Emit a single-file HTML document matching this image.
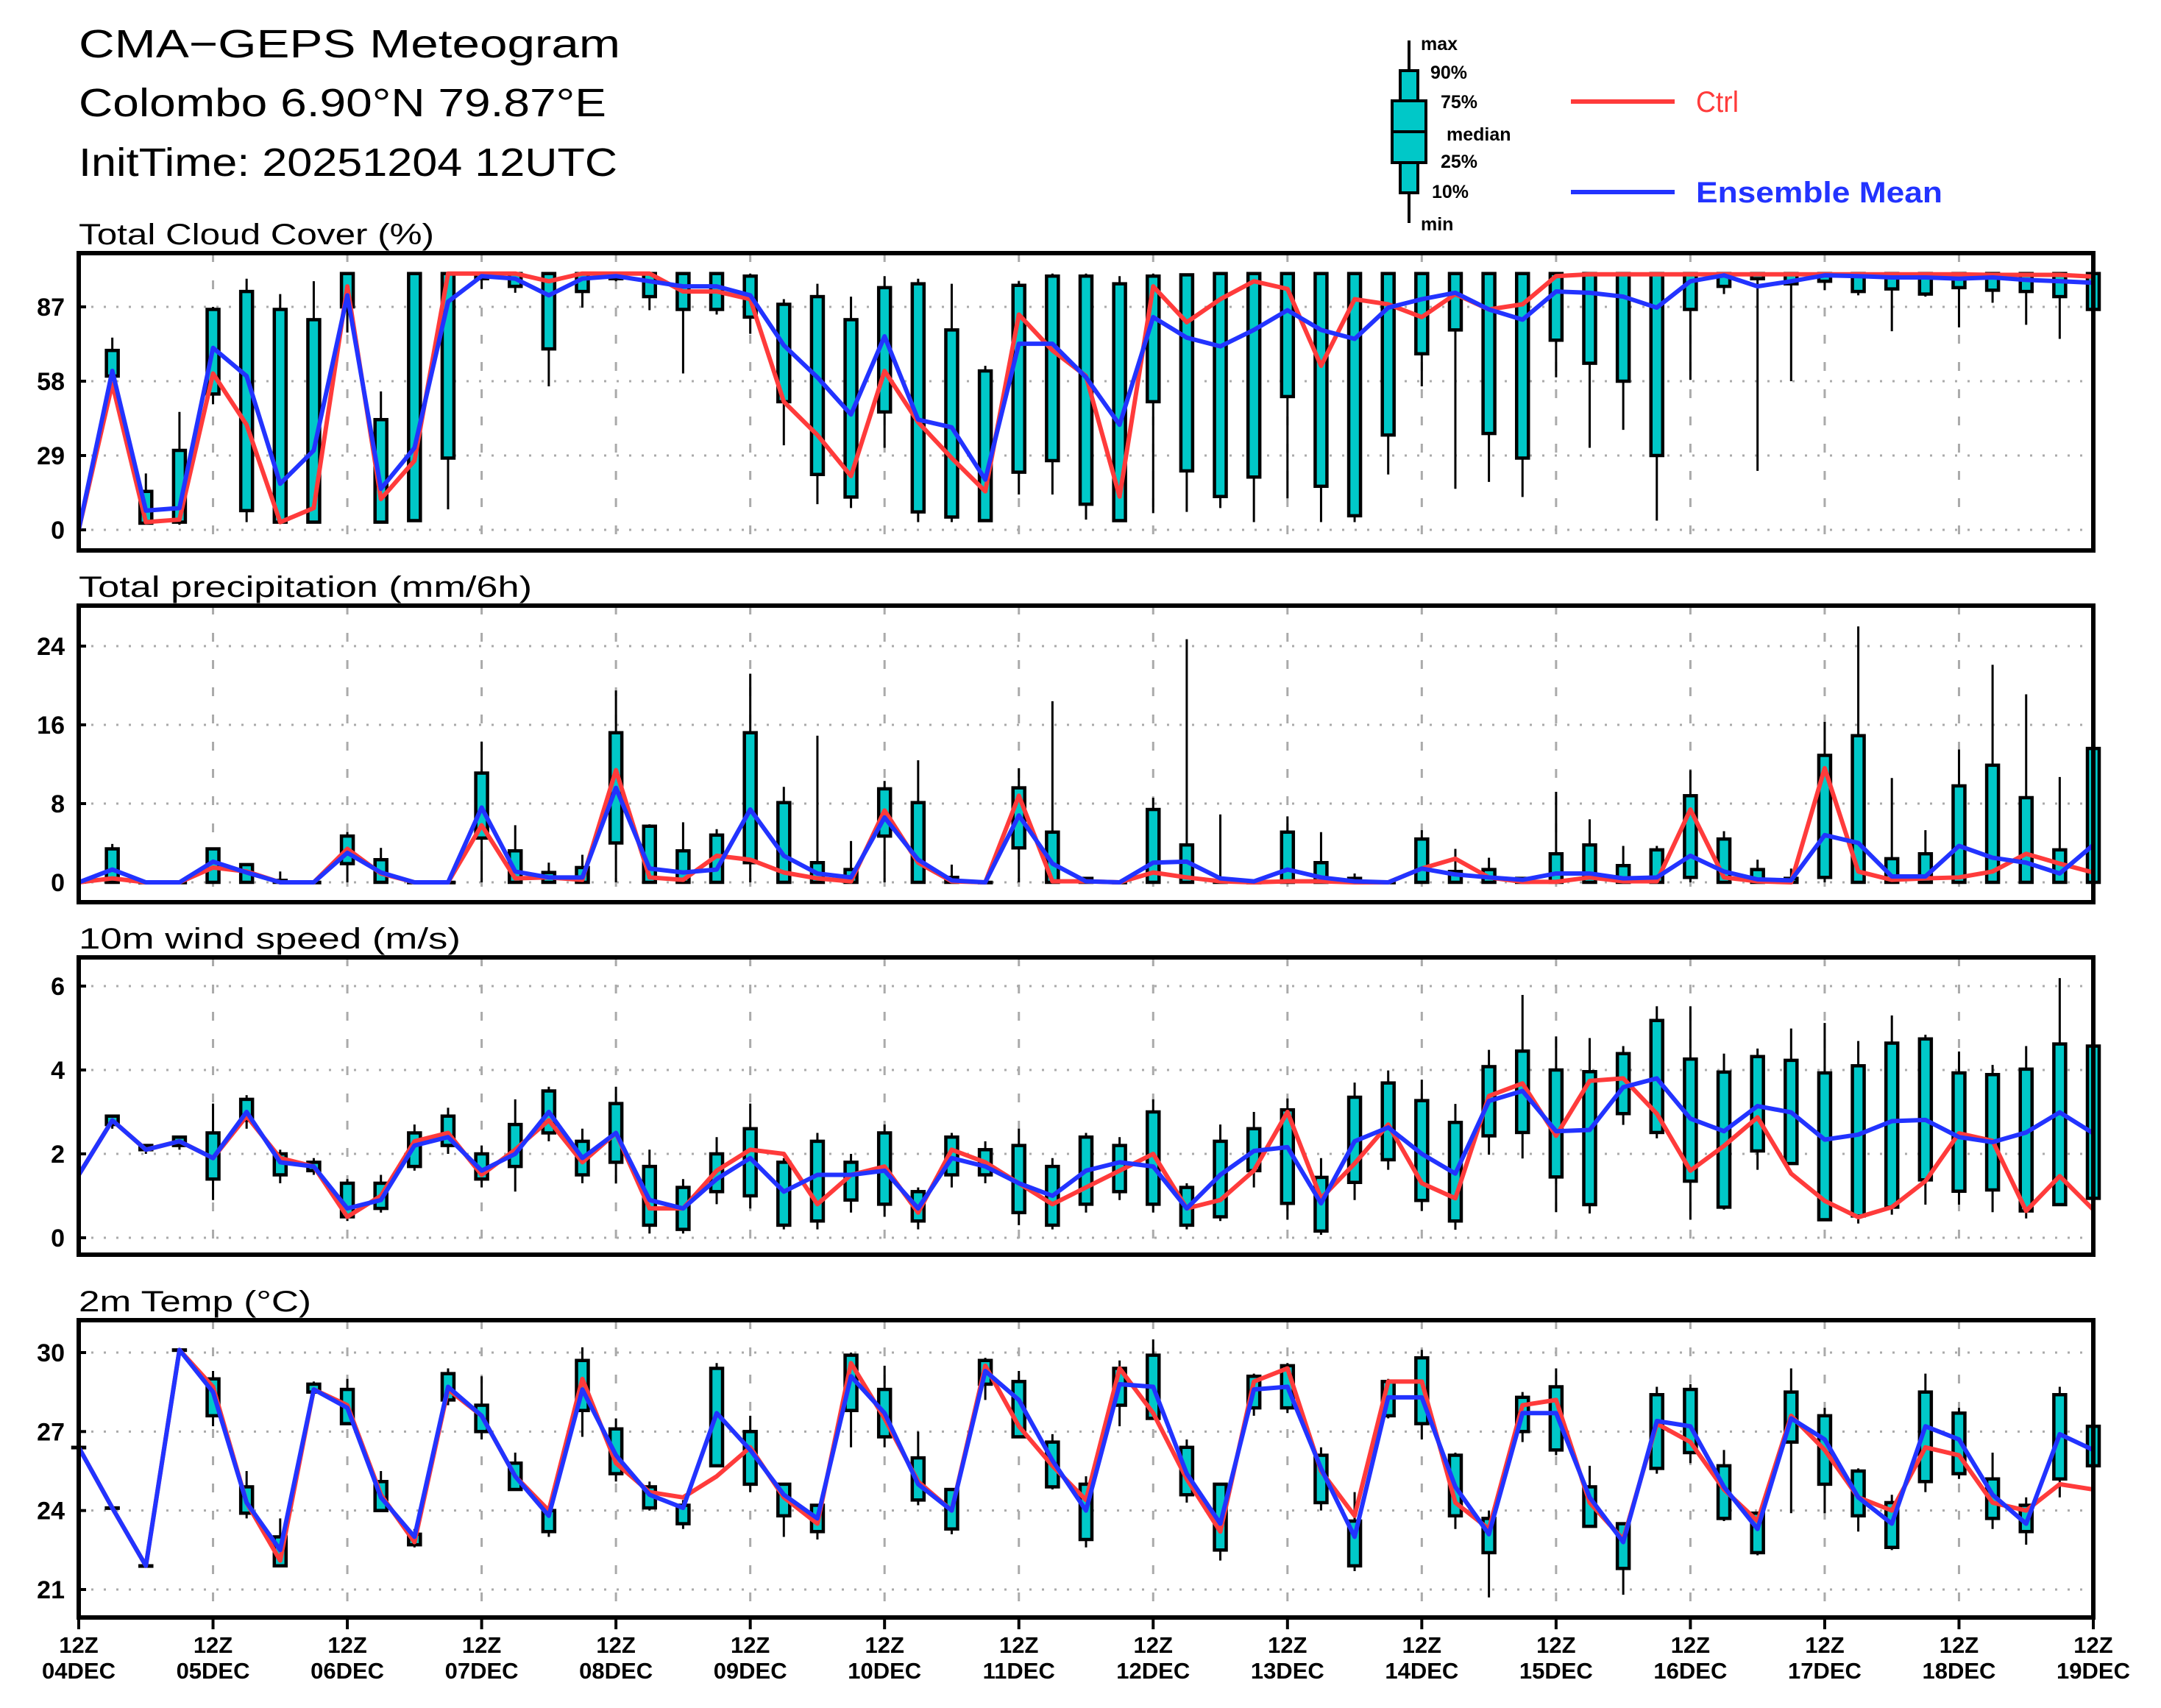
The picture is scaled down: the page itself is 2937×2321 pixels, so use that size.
<!DOCTYPE html>
<html><head><meta charset="utf-8"><style>
html,body{margin:0;padding:0;background:#fff}
svg{display:block}
text{font-family:"Liberation Sans",sans-serif}
</style></head><body>
<svg id="chart" xmlns="http://www.w3.org/2000/svg" width="2937" height="2321" viewBox="0 0 2937 2321">
<rect x="0" y="0" width="2937" height="2321" fill="#fff"/>
<g>
<text x="107" y="78" font-size="54" textLength="736" lengthAdjust="spacingAndGlyphs">CMA−GEPS Meteogram</text>
<text x="107" y="158" font-size="54" textLength="717" lengthAdjust="spacingAndGlyphs">Colombo 6.90°N 79.87°E</text>
<text x="107" y="239" font-size="54" textLength="732" lengthAdjust="spacingAndGlyphs">InitTime: 20251204 12UTC</text>
</g>
<g font-weight="bold" font-size="25">
<line x1="1915" y1="55" x2="1915" y2="303" stroke="#000" stroke-width="4"/>
<rect x="1903" y="96" width="24" height="166" fill="#00c8c8" stroke="#000" stroke-width="4"/>
<rect x="1892" y="137" width="46" height="84" fill="#00c8c8" stroke="#000" stroke-width="4"/>
<line x1="1892" y1="179" x2="1938" y2="179" stroke="#000" stroke-width="4"/>
<text x="1931" y="68">max</text>
<text x="1944" y="107">90%</text>
<text x="1958" y="147">75%</text>
<text x="1966" y="191">median</text>
<text x="1958" y="228">25%</text>
<text x="1946" y="269">10%</text>
<text x="1931" y="313">min</text>
<line x1="2135" y1="138" x2="2276" y2="138" stroke="#ff3b3b" stroke-width="6"/>
<text x="2305" y="152" font-size="40" font-weight="normal" fill="#ff3b3b" textLength="58" lengthAdjust="spacingAndGlyphs">Ctrl</text>
<line x1="2135" y1="261" x2="2276" y2="261" stroke="#2233ff" stroke-width="6"/>
<text x="2305" y="275" font-size="40" fill="#2233ff" textLength="335" lengthAdjust="spacingAndGlyphs">Ensemble Mean</text>
</g>
</svg>
<script>
// ---------- data ----------
const timeLabels = ["04DEC","05DEC","06DEC","07DEC","08DEC","09DEC","10DEC","11DEC","12DEC","13DEC","14DEC","15DEC","16DEC","17DEC","18DEC","19DEC"];

const cloudTicks = [0,29,58,87];
const cloudCtrl = [0,57,3,4,61,41,3,8.5,95,12,27,100,100,100,97,100,100,100,93,93,90,50,37,21,62,42,28,15,84,70,60,13,95,81,90,97,94,64,90,88,83,92,86,88,99,99.7,99.7,99.7,99.7,99.7,99.7,99.7,99.7,99.7,99.7,99.7,99.7,99.5,99.5,99.5,98.8];
const cloudMean = [0,62,7.5,8.5,71,60,18,31,91.5,16,32,89,99,98,91.5,98,99,97,95,95,91.5,72,59.5,45,75.5,43,40,19.6,72.6,72.6,59.5,41,83,75,71.6,78,85.7,78,74.5,86.7,90,92.5,86,82,93,92.5,91,86.7,97,99.3,95,97,99.3,99,98.5,98.5,98,98.5,97.5,97,96.4];
const cloudMin = [null,58,2,2,49,3,3,3,77,3,3,8,94,92.5,56,86.7,97,85.7,61,84,76.5,33,10,8.5,32,3,3,3,13.8,13.8,4,3,6.5,7,8.5,3,12.3,3,3,21.6,56,16,18.7,12.8,59.5,32,39,3.6,58.5,92,23,58,93.5,91.5,77.5,91,79,88.6,80,74.5,75];
const cloudP10 = [null,60,2.6,3,53,7.5,3,3,87,3,3.6,28,98,95,70.6,93,98,91,86,86,83,50,21.6,12.8,46,7,5,3.6,22.5,27,10,3.6,50,23,13,20.6,52,17,5.5,37,68.7,78,37.6,28,74,65,58,29,86,95,98,96,97,93,94,92,94.5,93.5,93,91,86];
const cloudP90 = [null,70,15,31,86,93,86,82,100,43,100,100,100,100,100,100,100,100,100,100,99,88,91,82,94.5,96,78,62,95.4,99,99,96,99,99.5,100,100,100,100,100,100,100,100,100,100,100,100,100,100,100,100,100,100,100,100,100,100,100,100,100,100,100];
const cloudMax = [null,75,22,46,87,98,92,97,100,54,100,100,100,100,100,100,100,100,100,100,100,90,96,91,99,98,96,64,97,100,100,99,100,100,100,100,100,100,100,100,100,100,100,100,100,100,100,100,100,100,100,100,100,100,100,100,100,100,100,100,100];

const precipTicks = [0,8,16,24];
const precipCtrl = [0,0.4,0,0,1.5,1.1,0,0,3.4,0.9,0,0,5.8,0.4,0.5,0.25,11.4,0.5,0.25,2.7,2.3,1.0,0.4,0.1,7.3,2.0,0.1,0,8.8,0.1,0.1,0,1.0,0.5,0.1,0,0.1,0.1,0,0,1.4,2.4,0.5,0.05,0.05,0.5,0.1,0.1,7.4,0.5,0.1,0,11.6,1.1,0.25,0.4,0.5,1.1,2.9,1.9,1.0];
const precipMean = [0,1.3,0,0,2.1,1.0,0,0,3.0,1.0,0,0,7.6,1.1,0.5,0.5,9.6,1.4,1.0,1.3,7.4,2.7,0.9,0.5,6.6,2.3,0.2,0,6.8,1.9,0.1,0,2.0,2.1,0.4,0.1,1.3,0.5,0.1,0,1.4,0.8,0.5,0.25,0.9,0.9,0.4,0.5,2.7,1.1,0.3,0.2,4.8,4.0,0.6,0.6,3.7,2.5,2.0,0.9,3.8];
const precipMin = [null,0,0,0,0,0,0,0,0,0,0,0,0,0,0,0,0,0,0,0,0,0,0,0,0,0,0,0,0,0,0,0,0,0,0,0,0,0,0,0,0,0,0,0,0,0,0,0,0,0,0,0,0,0,0,0,0,0,0,0,0];
const precipP10 = [null,0,0,0,0,0,0,0,1.9,0,0,0,4.5,0,0,0,4.0,0,0,0,2.0,0,0,0,4.7,0,0,0,3.5,0,0,0,0,0,0,0,0,0,0,0,0,0,0,0,0,0,0,0,0.5,0,0,0,0.5,0,0,0,0,0,0,0,0];
const precipP90 = [null,3.4,0,0,3.4,1.8,0.2,0,4.7,2.3,0,0,11.1,3.2,1.0,1.5,15.2,5.7,3.2,4.8,15.2,8.1,2.0,1.3,9.5,8.1,0.5,0,9.6,5.1,0.4,0,7.4,3.8,0.2,0,5.1,2.0,0.4,0,4.4,1.1,1.3,0.4,2.9,3.8,1.7,3.3,8.8,4.4,1.3,0.4,12.9,14.9,2.4,2.9,9.8,11.9,8.6,3.3,13.6];
const precipMax = [null,3.9,0,0,3.5,1.9,1.1,0,5.1,3.5,0,0,14.3,5.8,2.0,2.8,19.5,5.9,6.1,5.4,21.2,9.7,14.9,4.2,10.3,12.4,1.8,0,11.6,18.4,0.5,0,8.6,24.7,6.9,0,6.7,5.1,0.9,0,5.3,3.4,2.5,0.5,9.2,6.4,3.7,3.7,11.4,5.2,2.3,1.4,16.3,26.0,10.6,5.3,13.5,22.1,19.1,10.7,13.6];

const windTicks = [0,2,4,6];
const windCtrl = [1.5,2.8,2.1,2.3,1.9,2.9,1.9,1.7,0.5,1.0,2.3,2.5,1.5,2.1,2.8,1.8,2.5,0.7,0.7,1.6,2.1,2.0,0.8,1.5,1.7,0.6,2.1,1.8,1.3,0.8,1.2,1.6,2.0,0.7,0.9,1.6,3.0,0.94,1.77,2.7,1.3,0.94,3.38,3.68,2.43,3.74,3.8,2.96,1.6,2.19,2.87,1.53,0.88,0.49,0.73,1.35,2.49,2.31,0.64,1.47,0.67];
const windMean = [1.5,2.8,2.1,2.3,1.9,3.0,1.8,1.7,0.7,0.9,2.2,2.4,1.6,2.0,3.0,1.9,2.5,0.9,0.7,1.4,1.9,1.1,1.5,1.5,1.6,0.7,1.9,1.7,1.3,1.0,1.6,1.8,1.7,0.7,1.5,2.07,2.16,0.82,2.3,2.63,2.0,1.53,3.26,3.5,2.54,2.57,3.59,3.8,2.84,2.54,3.14,2.99,2.34,2.46,2.78,2.81,2.4,2.28,2.51,2.99,2.49];
const windMin = [null,2.6,2.0,2.1,0.9,2.6,1.3,1.5,0.4,0.6,1.6,2.0,1.2,1.1,2.3,1.3,1.3,0.1,0.1,0.8,0.7,0.2,0.2,0.6,0.5,0.2,1.2,1.3,0.3,0.2,0.6,0.9,0.6,0.2,0.4,1.2,0.43,0.07,0.9,1.62,0.64,0.19,1.98,1.89,0.61,0.58,2.69,2.37,0.43,0.67,1.62,1.77,0.4,0.34,0.55,0.79,0.79,0.61,0.46,0.79,0.8];
const windP10 = [null,2.7,2.1,2.2,1.4,2.8,1.5,1.6,0.5,0.7,1.7,2.2,1.4,1.7,2.5,1.5,1.8,0.3,0.2,1.1,1.0,0.3,0.4,0.9,0.8,0.4,1.5,1.5,0.6,0.3,0.8,1.1,0.8,0.3,0.5,1.6,0.82,0.16,1.32,1.86,0.89,0.4,2.43,2.51,1.45,0.79,2.96,2.51,1.35,0.73,2.07,1.77,0.43,0.52,0.73,1.38,1.11,1.14,0.64,0.79,0.94];
const windP90 = [null,2.9,2.2,2.4,2.5,3.3,2.0,1.8,1.3,1.3,2.5,2.9,2.0,2.7,3.5,2.3,3.2,1.7,1.2,2.0,2.6,1.8,2.3,1.8,2.5,1.1,2.4,2.1,2.2,1.7,2.4,2.2,3.0,1.2,2.3,2.6,3.05,1.44,3.35,3.69,3.27,2.75,4.08,4.45,4.0,3.96,4.39,5.18,4.26,3.95,4.32,4.23,3.93,4.1,4.64,4.74,3.93,3.89,4.02,4.62,4.57];
const windMax = [null,2.9,2.2,2.4,3.2,3.4,2.1,1.9,1.4,1.5,2.7,3.1,2.2,3.3,3.6,2.6,3.6,2.1,1.4,2.4,3.2,1.9,2.5,2.0,2.7,1.2,2.5,2.3,2.6,1.9,2.5,2.4,3.3,1.3,2.7,3.0,3.32,1.9,3.7,3.99,3.77,3.19,4.48,5.79,4.8,4.76,4.57,5.52,5.52,4.39,4.51,4.99,5.12,4.69,5.3,4.84,4.44,4.12,4.57,6.19,4.57];

const tempTicks = [21,24,27,30];
const tempCtrl = [26.4,24.1,21.9,30.1,28.7,24.3,22.1,28.6,28.0,24.6,22.8,28.6,27.6,25.3,24.0,29.0,25.8,24.7,24.5,25.3,26.4,24.5,23.5,29.6,27.5,25.1,24.0,29.5,27.2,25.7,24.4,29.4,27.7,25.2,23.2,28.9,29.4,25.5,23.8,28.9,28.9,24.3,23.3,28.0,28.2,24.3,22.9,27.3,26.6,24.8,23.6,27.6,26.3,24.5,24.0,26.4,26.1,24.3,24.0,25.0,24.8];
const tempMean = [26.4,24.1,21.9,30.1,28.5,24.3,22.5,28.6,27.9,24.5,23.0,28.7,27.6,25.3,23.8,28.6,26.1,24.6,24.1,27.7,26.3,24.6,23.7,29.1,27.7,25.0,24.0,29.3,28.2,25.9,24.0,28.8,28.7,25.4,23.5,28.6,28.7,25.6,23.0,28.3,28.3,24.9,23.1,27.7,27.7,24.5,22.8,27.4,27.2,24.9,23.3,27.5,26.7,24.5,23.5,27.2,26.7,24.6,23.5,26.9,26.3];
const tempMin = [26.4,24.1,21.9,30.1,27.2,23.7,21.9,28.5,27.3,24.0,22.6,28.0,26.7,24.8,23.0,26.8,25.1,24.0,23.3,25.7,24.7,23.0,22.9,26.4,26.4,24.2,23.1,28.2,26.8,24.8,22.6,27.2,27.5,24.3,22.1,27.6,27.7,24.0,21.7,27.5,26.7,23.3,20.7,26.6,26.1,23.4,20.8,25.4,25.8,23.6,22.3,23.9,23.9,23.2,22.5,24.7,25.2,23.3,22.7,24.5,25.7];
const tempP10 = [26.4,24.1,21.9,30.1,27.6,23.9,21.9,28.5,27.3,24.0,22.7,28.2,27.0,24.8,23.2,27.8,25.4,24.1,23.5,25.7,25.0,23.8,23.2,27.8,26.8,24.4,23.3,28.8,26.8,24.9,22.9,28.0,27.5,24.6,22.5,27.9,27.9,24.3,21.9,27.6,27.3,23.8,22.4,27.0,26.3,23.4,21.8,25.6,26.2,23.7,22.4,26.6,25.0,23.8,22.6,25.1,25.4,23.7,23.2,25.2,25.7];
const tempP90 = [26.4,24.1,21.9,30.1,29.0,24.9,23.0,28.8,28.6,25.1,23.1,29.2,28.0,25.8,24.0,29.7,27.1,24.9,24.2,29.4,27.0,25.0,24.2,29.9,28.6,26.0,24.8,29.7,28.9,26.6,25.0,29.4,29.9,26.4,25.0,29.1,29.5,26.1,23.6,28.9,29.8,26.1,23.7,28.3,28.7,24.9,23.5,28.4,28.6,25.7,23.9,28.5,27.6,25.5,24.3,28.5,27.7,25.2,24.2,28.4,27.2];
const tempMax = [26.4,24.1,21.9,30.1,29.3,25.5,23.7,28.9,29.0,25.5,23.3,29.4,29.1,26.2,24.1,30.2,27.5,25.1,24.4,29.6,27.6,25.0,24.2,30.0,29.5,27.0,24.8,29.8,29.3,26.9,25.3,29.7,30.5,26.7,25.0,29.2,29.6,26.4,24.7,29.0,30.1,26.2,24.0,28.5,29.4,25.7,23.5,28.7,28.8,26.3,23.9,29.4,27.9,25.6,24.6,29.2,27.9,26.2,24.5,28.7,27.5];

// ---------- layout ----------
const NS = "http://www.w3.org/2000/svg";
const svg = document.getElementById('chart');
const X0 = 107, X1 = 2845, NSTEP = 60;
function xPos(i){ return X0 + (X1 - X0) * i / NSTEP; }
function mk(tag, attrs, parent){
  const e = document.createElementNS(NS, tag);
  for (const k in attrs) e.setAttribute(k, attrs[k]);
  (parent || svg).appendChild(e);
  return e;
}
const panels = [
  {key:'cloud', title:'Total Cloud Cover (%)', tlen:483, top:344, bottom:748, p0:720, v0:0, p1:417, v1:87, ticks:cloudTicks, ctrl:cloudCtrl, mean:cloudMean, mn:cloudMin, p10:cloudP10, p90:cloudP90, mx:cloudMax},
  {key:'precip', title:'Total precipitation (mm/6h)', tlen:616, top:823, bottom:1226, p0:1199, v0:0, p1:878, v1:24, ticks:precipTicks, ctrl:precipCtrl, mean:precipMean, mn:precipMin, p10:precipP10, p90:precipP90, mx:precipMax},
  {key:'wind', title:'10m wind speed (m/s)', tlen:519, top:1301, bottom:1705, p0:1682, v0:0, p1:1340, v1:6, ticks:windTicks, ctrl:windCtrl, mean:windMean, mn:windMin, p10:windP10, p90:windP90, mx:windMax},
  {key:'temp', title:'2m Temp (°C)', tlen:316, top:1794, bottom:2198, p0:2160, v0:21, p1:1838, v1:30, ticks:tempTicks, ctrl:tempCtrl, mean:tempMean, mn:tempMin, p10:tempP10, p90:tempP90, mx:tempMax}
];

panels.forEach(function(P){
  const yPos = function(v){ return P.p0 + (v - P.v0) * (P.p1 - P.p0) / (P.v1 - P.v0); };
  const g = mk('g', {});
  
  

  const t = mk('text', {x:X0, y:P.top - 12, 'font-size':40, textLength:P.tlen, lengthAdjust:'spacingAndGlyphs'}, g);
  
  
  t.textContent = P.title;

  for (let i = 4; i < NSTEP; i += 4) {
    const l = mk('line', {x1:xPos(i), x2:xPos(i), y1:P.top, y2:P.bottom, stroke:'#aaaaaa', 'stroke-width':3, 'stroke-dasharray':'12,25'}, g);
    
    
  }
  P.ticks.forEach(function(v){
    const y = yPos(v);
    const l = mk('line', {x1:X0, x2:X1, y1:y, y2:y, stroke:'#aaaaaa', 'stroke-width':3, 'stroke-dasharray':'3,14'}, g);
    
    
    const tk = mk('line', {x1:X0, x2:X0 + 10, y1:y, y2:y, stroke:'#000', 'stroke-width':4}, g);
    
    
    const lb = mk('text', {x:88, y:y + 12, 'font-size':34, 'font-weight':'bold', 'text-anchor':'end'}, g);
    
    
    lb.textContent = String(v);
  });
  for (let i = 0; i <= NSTEP; i++) {
    if (P.mn[i] === null || P.mn[i] === undefined) continue;
    const x = xPos(i);
    const w = mk('line', {x1:x, x2:x, y1:yPos(P.mx[i]), y2:yPos(P.mn[i]), stroke:'#000', 'stroke-width':3}, g);
    
    
    const yt = yPos(P.p90[i]), yb = yPos(P.p10[i]);
    const b = mk('rect', {x:x - 8, y:yt, width:16, height:Math.max(yb - yt, 0.5), fill:'#00c8c8', stroke:'#000', 'stroke-width':4.5}, g);
    
    
  }
  const ptsC = P.ctrl.map(function(v, i){ return xPos(i) + ',' + yPos(v); }).join(' ');
  const lc = mk('polyline', {points:ptsC, fill:'none', stroke:'#ff3b3b', 'stroke-width':6, 'stroke-linejoin':'round'}, g);
  
  
  const ptsM = P.mean.map(function(v, i){ return xPos(i) + ',' + yPos(v); }).join(' ');
  const lm = mk('polyline', {points:ptsM, fill:'none', stroke:'#2233ff', 'stroke-width':6, 'stroke-linejoin':'round'}, g);
  
  
  const fr = mk('rect', {x:X0, y:P.top, width:X1 - X0, height:P.bottom - P.top, fill:'none', stroke:'#000', 'stroke-width':6}, g);
  
  
});

const xg = mk('g', {});


timeLabels.forEach(function(d, k){
  const x = xPos(k * 4);
  const tk = mk('line', {x1:x, x2:x, y1:2198, y2:2214, stroke:'#000', 'stroke-width':4}, xg);
  
  
  const t1 = mk('text', {x:x, y:2246, 'font-size':31, 'font-weight':'bold', 'text-anchor':'middle'}, xg);
  
  
  t1.textContent = '12Z';
  const t2 = mk('text', {x:x, y:2281, 'font-size':31, 'font-weight':'bold', 'text-anchor':'middle'}, xg);
  
  
  t2.textContent = d;
});
</script>
</body></html>
